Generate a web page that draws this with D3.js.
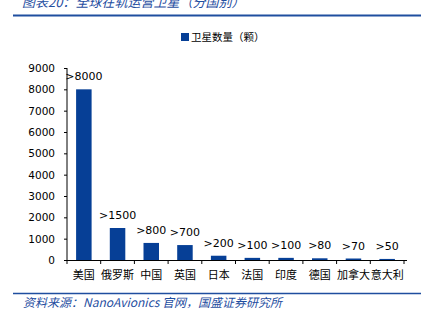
<!DOCTYPE html>
<html><head><meta charset="utf-8">
<script src="https://cdn.jsdelivr.net/npm/d3@7"></script>
<style>body{margin:0;background:#fff}svg{display:block}</style>
</head><body>
<script>
const categories = ["美国","俄罗斯","中国","英国","日本","法国","印度","德国","加拿大","意大利"];
const values = [8000,1500,800,700,200,100,100,80,70,50];
const valueLabels = [">8000",">1500",">800",">700",">200",">100",">100",">80",">70",">50"];
const yTicks = [0,1000,2000,3000,4000,5000,6000,7000,8000,9000];
const seriesName = "卫星数量（颗）";
const title = "图表20：全球在轨运营卫星（分国别）";
const source = "资料来源：NanoAvionics 官网，国盛证券研究所";

const W=421,H=326;
const svg=d3.select("body").append("svg").attr("width",W).attr("height",H);
const barColor="#063F96", blue="#1F4E9F";
const latin="'DejaVu Sans', Verdana, sans-serif";
const cjk="'Noto Sans CJK SC', sans-serif";

// title
svg.append("text").attr("x",22).attr("y",7).attr("fill",blue)
  .attr("font-family",cjk).attr("font-size",13).attr("font-style","italic").text(title);
svg.append("line").attr("x1",13).attr("x2",W).attr("y1",15.5).attr("y2",15.5)
  .attr("stroke",blue).attr("stroke-width",2);

// legend
svg.append("rect").attr("x",181).attr("y",33).attr("width",8).attr("height",8).attr("fill",barColor);
svg.append("text").attr("x",191).attr("y",41).attr("font-family",cjk).attr("font-size",10.5)
  .attr("fill","#000").text(seriesName);

const x=d3.scaleBand().domain(categories).range([67,404]).paddingInner(0.54).paddingOuter(0.27);
const y=d3.scaleLinear().domain([0,9000]).range([260,68]);

// y axis
const ya=svg.append("g").attr("transform","translate(67,0)")
  .call(d3.axisLeft(y).tickValues(yTicks).tickSize(3).tickPadding(9).tickFormat(d3.format("d")));
ya.select(".domain").attr("stroke","#000").attr("d","M0,68V260");
ya.selectAll(".tick line").attr("stroke","#000");
ya.selectAll(".tick text").attr("font-family",latin).attr("font-size",10.5).attr("fill","#000");

// x axis
const xa=svg.append("g").attr("transform","translate(0,260)");
xa.append("line").attr("x1",67).attr("x2",407).attr("y1",0.5).attr("y2",0.5).attr("stroke","#000");
const step=x.step();
const bounds=d3.range(categories.length+1).map(i=>x.range()[0]+i*((x.range()[1]-x.range()[0])/categories.length));
xa.selectAll(".tk").data(bounds).join("line").attr("x1",d=>d).attr("x2",d=>d)
  .attr("y1",0).attr("y2",4).attr("stroke","#000");
xa.selectAll(".cat").data(categories).join("text")
  .attr("x",d=>x(d)+x.bandwidth()/2).attr("y",19).attr("text-anchor","middle")
  .attr("font-family",cjk).attr("font-size",11).attr("fill","#000").text(d=>d);

// bars
svg.selectAll(".bar").data(values).join("rect")
  .attr("x",(d,i)=>x(categories[i])).attr("width",x.bandwidth())
  .attr("y",d=>y(d)).attr("height",d=>260-y(d)).attr("fill",barColor);
svg.selectAll(".vl").data(values).join("text")
  .attr("x",(d,i)=>x(categories[i])+x.bandwidth()/2).attr("y",d=>y(d)-9)
  .attr("text-anchor","middle").attr("font-family",latin).attr("font-size",11).attr("fill","#000")
  .text((d,i)=>valueLabels[i]);

// footer
svg.append("line").attr("x1",13).attr("x2",W).attr("y1",293.5).attr("y2",293.5)
  .attr("stroke",blue).attr("stroke-width",1.5);
svg.append("text").attr("x",23).attr("y",307).attr("fill",blue)
  .attr("font-family",cjk).attr("font-size",12).attr("font-style","italic").text(source);
</script>
</body></html>
